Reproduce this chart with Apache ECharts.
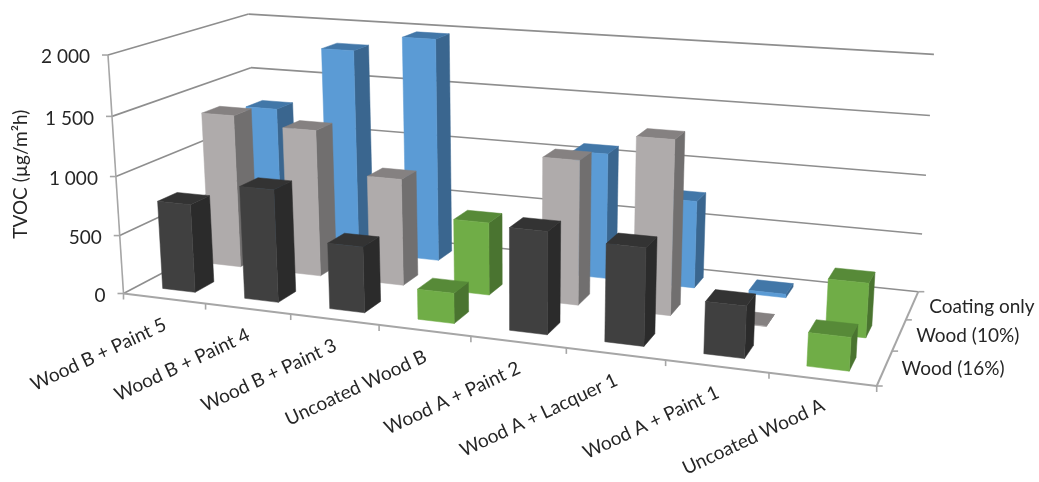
<!DOCTYPE html>
<html>
<head>
<meta charset="utf-8">
<style>html,body{margin:0;padding:0;background:#fff}#chart{width:1039px;height:482px}</style>
<script src="https://cdn.jsdelivr.net/npm/echarts@6/dist/echarts.min.js"></script>
</head>
<body>
<div id="chart"></div>
<script>
// TVOC emission per material and measurement condition
const categories = ['Wood B + Paint 5','Wood B + Paint 4','Wood B + Paint 3','Uncoated Wood B','Wood A + Paint 2','Wood A + Lacquer 1','Wood A + Paint 1','Uncoated Wood A'];
const depthLabels = ['Wood (16%)','Wood (10%)','Coating only'];
const yTicks = [0,500,1000,1500,2000];
const yTickLabels = ['0','500','1 000','1 500','2 000'];
const wood16 = [755,950,550,250,830,780,410,260];
const wood10 = [1345,1275,920,620,1210,1440,3,440];
const coatingOnly = [1250,1825,1970,null,1090,750,30,null];

const palette = {
  dark:  {front:'#404040', side:'#2b2b2b', top:'#333333'},
  grey:  {front:'#afabab', side:'#716f6f', top:'#858181'},
  blue:  {front:'#5b9bd5', side:'#3a668f', top:'#4277a8'},
  green: {front:'#70ad47', side:'#4a7430', top:'#578a38'}
};
const uncoated = [3,7];

// Perspective of the plot box: floor plane plus the vanishing point of the verticals
const floor = [[123.5,293.5],[876.7,386],[918.3,291.7],[257.5,223]];
const vanish = [518.4,6369];
const lift = -0.03777;
const H = (function(p){
  const dx1=p[1][0]-p[2][0], dx2=p[3][0]-p[2][0], sx=p[0][0]-p[1][0]+p[2][0]-p[3][0];
  const dy1=p[1][1]-p[2][1], dy2=p[3][1]-p[2][1], sy=p[0][1]-p[1][1]+p[2][1]-p[3][1];
  const den=dx1*dy2-dx2*dy1, g=(sx*dy2-dx2*sy)/den, h=(dx1*sy-sx*dy1)/den;
  return {a:p[1][0]-p[0][0]+g*p[1][0], b:p[3][0]-p[0][0]+h*p[3][0], c:p[0][0],
          d:p[1][1]-p[0][1]+g*p[1][1], e:p[3][1]-p[0][1]+h*p[3][1], f:p[0][1], g:g, h:h};
})(floor);
function project(u,v,w){
  const k=w*lift, W=H.g*u+H.h*v+1+k;
  return [(H.a*u+H.b*v+H.c+k*vanish[0])/W, (H.d*u+H.e*v+H.f+k*vanish[1])/W];
}
// Height along the vertical direction
function heightOf(api,val){
  const y0=api.coord([0,0])[1], yMax=api.coord([0,yTicks[yTicks.length-1]])[1];
  return (y0-api.coord([0,val])[1])/(y0-yMax);
}

const nCat=categories.length, nDepth=depthLabels.length;
const barFrac=0.4;

function barRenderer(row,baseColor){
  return function(params,api){
    const i=api.value(0), val=api.value(1);
    const w=heightOf(api,val);
    const u0=(i+0.5-barFrac/2)/nCat, u1=(i+0.5+barFrac/2)/nCat;
    const v0=(row+0.5-barFrac/2)/nDepth, v1=(row+0.5+barFrac/2)/nDepth;
    const col=uncoated.indexOf(i)>=0?palette.green:palette[baseColor];
    const poly=(pts,fill)=>({type:'polygon',shape:{points:pts},style:{fill:fill,stroke:fill,lineWidth:0.5}});
    return {type:'group',children:[
      poly([project(u1,v0,0),project(u1,v1,0),project(u1,v1,w),project(u1,v0,w)],col.side),
      poly([project(u0,v0,w),project(u1,v0,w),project(u1,v1,w),project(u0,v1,w)],col.top),
      poly([project(u0,v0,0),project(u1,v0,0),project(u1,v0,w),project(u0,v0,w)],col.front)
    ]};
  };
}

const textFont='Lato, "Open Sans", sans-serif';
const textColor='#262626';
const lineColor='#8e8e8e';

function frameRenderer(params,api){
  const kids=[];
  const seg=(a,b,c,wd)=>kids.push({type:'line',shape:{x1:a[0],y1:a[1],x2:b[0],y2:b[1]},style:{stroke:c||lineColor,lineWidth:wd||1.6}});
  const text=(s,x,y,align,rot)=>kids.push({type:'text',x:x,y:y,rotation:rot||0,style:{text:s,align:align,verticalAlign:'middle',fontFamily:textFont,fontSize:19,fill:textColor}});
  yTicks.forEach(function(t,idx){
    const w=heightOf(api,t);
    seg(project(0,0,w),project(0,1,w));
    seg(project(0,1,w),project(1,1,w));
    const p=project(0,0,w);
    seg(p,[p[0]-6,p[1]],'#a6a6a6');
    text(yTickLabels[idx],p[0]-18,p[1]+2,'right');
  });
  const top=heightOf(api,yTicks[yTicks.length-1]);
  seg(project(0,0,0),project(0,0,top),'#a6a6a6');
  seg(project(0,0,0),project(1,0,0),'#a6a6a6',2);
  seg(project(1,0,0),project(1,1,0),'#a6a6a6',2);
  for(let i=0;i<=nCat;i++){
    const p=project(i/nCat,0,0);
    seg(p,[p[0],p[1]+6],'#a6a6a6');
  }
  for(let r=0;r<=nDepth;r++){
    const p=project(1,r/nDepth,0);
    seg(p,[p[0]+6,p[1]],'#a6a6a6');
  }
  categories.forEach(function(c,i){
    const p=project((i+0.5)/nCat,0,0);
    text(c,p[0]+1,p[1]+25,'right',25*Math.PI/180);
  });
  depthLabels.forEach(function(d,r){
    const p=project(1,(r+0.5)/nDepth,0);
    text(d,p[0]+17,p[1]+1,'left');
  });
  return {type:'group',children:kids};
}

const toPairs=arr=>arr.map((v,i)=>v===null?null:[i,v]).filter(Boolean);
const chart=echarts.init(document.getElementById('chart'),null,{renderer:'canvas'});
chart.setOption({
  animation:false,
  backgroundColor:'#ffffff',
  tooltip:{show:false},
  grid:{left:100,right:20,top:55,height:238.5,containLabel:false},
  xAxis:{type:'category',data:categories,show:false},
  yAxis:{type:'value',min:0,max:2000,interval:500,
    axisLine:{show:false},axisTick:{show:false},axisLabel:{show:false},splitLine:{show:false},
    name:'TVOC (µg/m²h)',nameLocation:'middle',nameGap:70,
    nameTextStyle:{fontFamily:textFont,fontSize:19,color:textColor}},
  series:[
    {type:'custom',name:'Frame',coordinateSystem:'cartesian2d',clip:false,silent:true,z:1,data:[[0,0]],renderItem:frameRenderer},
    {type:'custom',name:depthLabels[2],coordinateSystem:'cartesian2d',clip:false,z:2,data:toPairs(coatingOnly),renderItem:barRenderer(2,'blue')},
    {type:'custom',name:depthLabels[1],coordinateSystem:'cartesian2d',clip:false,z:3,data:toPairs(wood10),renderItem:barRenderer(1,'grey')},
    {type:'custom',name:depthLabels[0],coordinateSystem:'cartesian2d',clip:false,z:4,data:toPairs(wood16),renderItem:barRenderer(0,'dark')}
  ]
});
</script>
</body>
</html>
